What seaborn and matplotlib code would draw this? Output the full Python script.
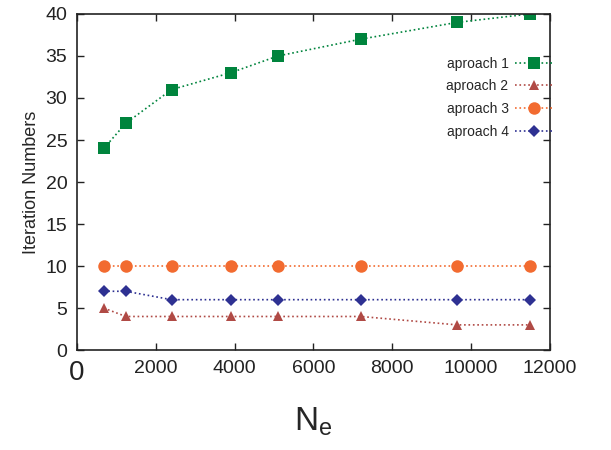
import matplotlib
matplotlib.use("Agg")
import matplotlib.pyplot as plt
import pandas as pd
import seaborn as sns

ne = [680, 1240, 2400, 3900, 5100, 7200, 9650, 11500]
aproach1 = [24, 27, 31, 33, 35, 37, 39, 40]
aproach2 = [5, 4, 4, 4, 4, 4, 3, 3]
aproach3 = [10, 10, 10, 10, 10, 10, 10, 10]
aproach4 = [7, 7, 6, 6, 6, 6, 6, 6]

names = ['aproach 1', 'aproach 2', 'aproach 3', 'aproach 4']
colors = ['#00843D', '#B04A45', '#F26B30', '#2E3192']
markers = ['s', '^', 'o', 'D']
msizes = [9, 7, 9, 6]

df = pd.concat([
    pd.DataFrame({'Ne': ne, 'iters': vals, 'method': name})
    for name, vals in zip(names, [aproach1, aproach2, aproach3, aproach4])
], ignore_index=True)

sns.set_style("ticks")
plt.rcParams['font.family'] = ['Liberation Sans', 'DejaVu Sans']

fig = plt.figure(figsize=(6.11, 4.5), dpi=100)
ax = fig.add_axes([0.126, 0.222, 0.774, 0.747])

for name, c, m, ms in zip(names, colors, markers, msizes):
    sub = df[df['method'] == name]
    sns.lineplot(data=sub, x='Ne', y='iters', ax=ax, color=c, marker=m,
                 markersize=ms, markeredgewidth=0, linestyle=':', linewidth=1.2,
                 label=name)

ax.set_xlim(0, 12000)
ax.set_ylim(0, 40)
ax.set_xticks(range(0, 12001, 2000))
ax.set_yticks(range(0, 41, 5))
ax.tick_params(direction='in', top=True, right=True, labelsize=14, length=5,
               width=1, colors='#222222', pad=7)
ax.get_xticklabels()[0].set_fontsize(20)
for s in ax.spines.values():
    s.set_linewidth(1.2)
    s.set_color('#222222')

ax.set_xlabel(r'N$_\mathregular{e}$', fontsize=24, labelpad=14)
ax.set_ylabel('Iteration Numbers', fontsize=13)

ax.legend(loc='upper right', bbox_to_anchor=(1.03, 0.91), frameon=False,
          markerfirst=False, fontsize=10, handlelength=2.6, labelspacing=0.62,
          handletextpad=0.5)

plt.savefig('out.png', dpi=100)
